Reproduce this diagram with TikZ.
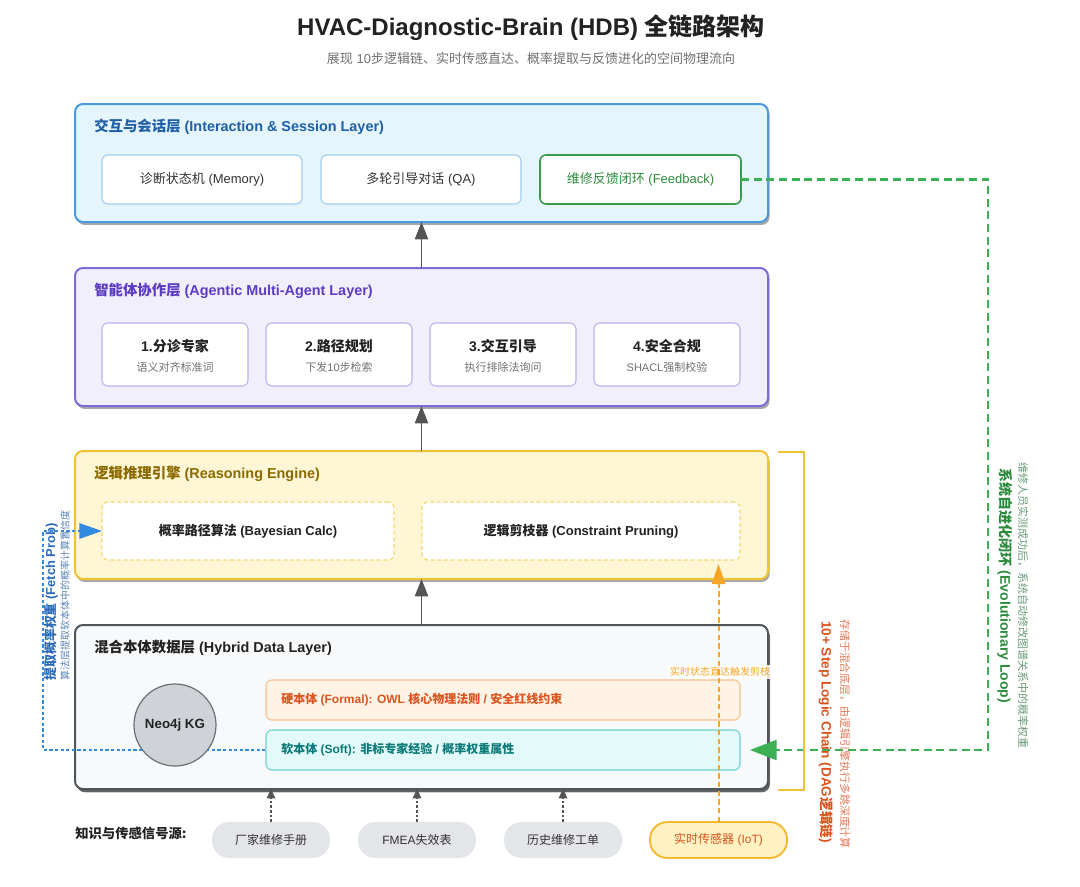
\documentclass[tikz,border=0pt]{standalone}
\usepackage{fontspec}
\setmainfont{Liberation Sans}
\newfontfamily\cjk{Noto Sans CJK SC}
\newcommand{\zh}[1]{{\cjk #1}}
\newcommand{\fs}[1]{\fontsize{#1}{#1}\selectfont}
\usetikzlibrary{arrows.meta,shadows}
\definecolor{ttl}{HTML}{222222}
\definecolor{subc}{HTML}{707070}
\definecolor{txtc}{HTML}{333333}
\definecolor{lAd}{HTML}{4A9AE0}
\definecolor{lAf}{HTML}{E5F5FD}
\definecolor{lAt}{HTML}{1F5FA6}
\definecolor{lAi}{HTML}{9DCBF0}
\definecolor{grn}{HTML}{3A9A4A}
\definecolor{grnt}{HTML}{2E8B3E}
\definecolor{lBd}{HTML}{7D6BD8}
\definecolor{lBf}{HTML}{F2EFFD}
\definecolor{lBt}{HTML}{5B3CC4}
\definecolor{lBi}{HTML}{B9B0F0}
\definecolor{lCd}{HTML}{F2C232}
\definecolor{lCf}{HTML}{FFF6D6}
\definecolor{lCt}{HTML}{8A6A00}
\definecolor{lCi}{HTML}{F5D874}
\definecolor{lDd}{HTML}{50555A}
\definecolor{lDf}{HTML}{F8F9FA}
\definecolor{frmf}{HTML}{FFF3E6}
\definecolor{frmd}{HTML}{F7C08A}
\definecolor{frmt}{HTML}{D9541E}
\definecolor{sftf}{HTML}{E3FAFA}
\definecolor{sftd}{HTML}{6DCFD0}
\definecolor{sftt}{HTML}{0B7A78}
\definecolor{neof}{HTML}{CFD3D8}
\definecolor{neod}{HTML}{6B7075}
\definecolor{pillf}{HTML}{E4E5E8}
\definecolor{iotf}{HTML}{FFF1C2}
\definecolor{iotd}{HTML}{F5B82E}
\definecolor{orgl}{HTML}{F5A623}
\definecolor{loopg}{HTML}{3CB054}
\definecolor{loopb}{HTML}{2F8AE0}
\definecolor{arrg}{HTML}{555555}
\definecolor{dagt}{HTML}{D9541E}
\definecolor{dags}{HTML}{E07A5A}
\definecolor{evot}{HTML}{2E8B3E}
\definecolor{evos}{HTML}{6A9A7A}
\definecolor{fpt}{HTML}{2A6AB8}
\definecolor{fps}{HTML}{5A84B5}
\tikzset{
  sz/.style 2 args={minimum width=#1*0.75pt, minimum height=#2*0.75pt},
  layer/.style={draw, line width=1.5pt, rounded corners=6pt, inner sep=0pt, outer sep=0pt,
    drop shadow={shadow xshift=1.2pt, shadow yshift=-2.2pt, opacity=0.45, fill=black!75}},
  ltitle/.style={anchor=west, inner sep=0pt, font=\fs{10.8}\bfseries},
  ibox/.style={draw, fill=white, line width=0.8pt, rounded corners=4.5pt, inner sep=0pt, outer sep=0pt, align=center},
  agbox/.style={ibox, draw=lBi, sz={146}{63}},
  agt/.style={inner sep=0pt, font=\fs{10.5}\bfseries, text=ttl},
  ags/.style={inner sep=0pt, font=\fs{8.25}, text=subc},
  rbox/.style={ibox, draw=lCi, line width=0.9pt, dash pattern=on 3pt off 2pt, font=\fs{9.75}\bfseries, text=ttl},
  pill/.style={fill=pillf, rounded corners=13pt, inner sep=0pt, outer sep=0pt, sz={118}{36}, font=\fs{9}, text=txtc},
  larrow/.style={draw=arrg, line width=1.1pt, -{Triangle[length=13pt,width=10pt]}},
  sarrow/.style={draw=arrg, line width=0.8pt, dash pattern=on 2pt off 1.5pt, -{Triangle[length=7pt,width=6.5pt]}},
  bluel/.style={draw=loopb, line width=1.5pt, dash pattern=on 2.4pt off 1.8pt, -{Triangle[length=17pt,width=11.5pt]}},
  greenl/.style={draw=loopg, line width=1.8pt, dash pattern=on 6pt off 3.5pt, -{Triangle[length=20pt,width=15pt]}},
  orgarrow/.style={draw=orgl, line width=1.5pt, dash pattern=on 4pt off 2.5pt, -{Triangle[length=15pt,width=10pt]}},
}
\begin{document}
\begin{tikzpicture}[x=0.75pt,y=-0.75pt]
\fill[white] (0,0) rectangle (1080,886);
\useasboundingbox (0,0) rectangle (1080,886);
% title
\node[font=\fs{18}\bfseries, text=ttl, inner sep=0pt] (title) at (531,28) {HVAC-Diagnostic-Brain (HDB) \zh{全链路架构}};
\node[font=\fs{9.75}, text=subc, inner sep=0pt] (subtitle) at (531,59) {\zh{展现} 10\zh{步逻辑链、实时传感直达、概率提取与反馈进化的空间物理流向}};
% layer 1
\node[layer, sz={693}{118}, draw=lAd, fill=lAf] (L1) at (421.5,163) {};
\node[ltitle, text=lAt] (L1t) at (94,127) {\zh{交互与会话层} (Interaction \& Session Layer)};
\node[ibox, sz={200}{49}, draw=lAi, font=\fs{9.75}, text=txtc] (mem) at (202,179.5) {\zh{诊断状态机} (Memory)};
\node[ibox, sz={200}{49}, draw=lAi, font=\fs{9.75}, text=txtc] (qa) at (421,179.5) {\zh{多轮引导对话} (QA)};
\node[ibox, sz={201}{49}, draw=grn, line width=1.2pt, font=\fs{9.75}, text=grnt] (fb) at (640.5,179.5) {\zh{维修反馈闭环} (Feedback)};
% layer 2
\node[layer, sz={693}{138}, draw=lBd, fill=lBf] (L2) at (421.5,337) {};
\node[ltitle, text=lBt] (L2t) at (94,291) {\zh{智能体协作层} (Agentic Multi-Agent Layer)};
\node[agbox] (a1) at (175,354.5) {};
\node[agbox] (a2) at (339,354.5) {};
\node[agbox] (a3) at (503,354.5) {};
\node[agbox] (a4) at (667,354.5) {};
\node[agt] (a1t) at (175,346) {1.\zh{分诊专家}};
\node[ags] (a1s) at (175,367) {\zh{语义对齐标准词}};
\node[agt] (a2t) at (339,346) {2.\zh{路径规划}};
\node[ags] (a2s) at (339,367) {\zh{下发}10\zh{步检索}};
\node[agt] (a3t) at (503,346) {3.\zh{交互引导}};
\node[ags] (a3s) at (503,367) {\zh{执行排除法询问}};
\node[agt] (a4t) at (667,346) {4.\zh{安全合规}};
\node[ags] (a4s) at (667,367) {SHACL\zh{强制校验}};
% layer 3
\node[layer, sz={693}{128}, draw=lCd, fill=lCf] (L3) at (421.5,515) {};
\node[ltitle, text=lCt] (L3t) at (94,474) {\zh{逻辑推理引擎} (Reasoning Engine)};
\node[rbox, sz={292}{58}] (bayes) at (248,531) {\zh{概率路径算法} (Bayesian Calc)};
\node[rbox, sz={318}{58}] (prune) at (581,531) {\zh{逻辑剪枝器} (Constraint Pruning)};
% layer 4
\node[layer, sz={693}{164}, draw=lDd, fill=lDf, drop shadow={shadow xshift=1.5pt, shadow yshift=-2.5pt, opacity=0.6, fill=black!80}] (L4) at (421.5,707) {};
\node[ltitle, text=ttl] (L4t) at (94,648) {\zh{混合本体数据层} (Hybrid Data Layer)};
\node[draw=frmd, fill=frmf, line width=0.8pt, rounded corners=4.5pt, inner sep=0pt, sz={474}{40}] (formal) at (503,700) {};
\node[anchor=west, inner sep=0pt, font=\fs{9}\bfseries, text=frmt] (formalt) at (281,700) {\zh{硬本体} (Formal): OWL \zh{核心物理法则} / \zh{安全红线约束}};
\node[draw=sftd, fill=sftf, line width=0.8pt, rounded corners=4.5pt, inner sep=0pt, sz={474}{40}] (soft) at (503,750) {};
\node[anchor=west, inner sep=0pt, font=\fs{9}\bfseries, text=sftt] (softt) at (281,750) {\zh{软本体} (Soft): \zh{非标专家经验} / \zh{概率权重属性}};
% blue fetch loop
\coordinate (bl1) at (43,750);
\coordinate (bl2) at (43,531);
\draw[bluel] (soft.west) -- (soft.west -| bl1) -- (bl2 |- bayes.west) -- (bayes.west);
\node[circle, draw=neod, fill=neof, line width=0.9pt, sz={82}{82}, inner sep=0pt, font=\fs{10}\bfseries, text=ttl] (neo) at (175,725) {Neo4j KG};
% sources
\node[anchor=west, inner sep=0pt, font=\fs{10}\bfseries, text=ttl] (srcl) at (75,833) {\zh{知识与传感信号源:}};
\node[pill] (s1) at (271,840) {\zh{厂家维修手册}};
\node[pill] (s2) at (417,840) {FMEA\zh{失效表}};
\node[pill] (s3) at (563,840) {\zh{历史维修工单}};
\node[pill, sz={137}{36}, fill=iotf, draw=iotd, line width=1.4pt, text=frmt] (iot) at (718.5,840) {\zh{实时传感器} (IoT)};
\draw[sarrow] (s1.north) -- (s1.north |- L4.south);
\draw[sarrow] (s2.north) -- (s2.north |- L4.south);
\draw[sarrow] (s3.north) -- (s3.north |- L4.south);
% layer arrows
\draw[larrow] (L2.north) -- (L1.south);
\draw[larrow] (L3.north) -- (L2.south);
\draw[larrow] (L4.north) -- (L3.south);
% realtime label and orange arrow
\node[fill=white, fill opacity=0.85, text opacity=1, inner sep=2pt, font=\fs{7.5}, text=orgl] (rtl) at (720,672) {\zh{实时状态直达触发剪枝}};
\coordinate (oend) at (717,564);
\draw[orgarrow] (iot.north) -- (iot.north |- oend);
% green evolutionary loop
\coordinate (gc1) at (988,180);
\coordinate (gend) at (750,750);
\draw[greenl] (fb.east) -- (fb.east -| gc1) -- (gc1 |- gend) -- (gend);
% DAG bracket
\draw[lCd, line width=1.5pt] (778,452) -- (804,452) -- (804,790) -- (778,790);
% rotated labels
\node[rotate=-90, inner sep=0pt, font=\fs{10.2}\bfseries, text=dagt] (dag) at (826,732) {10+ Step Logic Chain (DAG\zh{逻辑链})};
\node[rotate=-90, inner sep=0pt, font=\fs{8.2}, text=dags] (dags) at (845,734) {\zh{存储于混合底层，由逻辑引擎执行多跳深度计算}};
\node[rotate=-90, inner sep=0pt, font=\fs{10.5}\bfseries, text=evot] (evo) at (1005,586) {\zh{系统自进化闭环} (Evolutionary Loop)};
\node[rotate=-90, inner sep=0pt, font=\fs{8.25}, text=evos] (evos) at (1023,605) {\zh{维修人员实测成功后，系统自动修改图谱关系中的概率权重}};
\node[rotate=90, inner sep=0pt, font=\fs{9.7}\bfseries, text=fpt] (fp) at (51,602) {\zh{提取概率权重} (Fetch Prob)};
\node[rotate=90, inner sep=0pt, font=\fs{7.5}, text=fps] (fps) at (65,595) {\zh{算法层提取软本体中的概率计算置信度}};
\end{tikzpicture}
\end{document}
